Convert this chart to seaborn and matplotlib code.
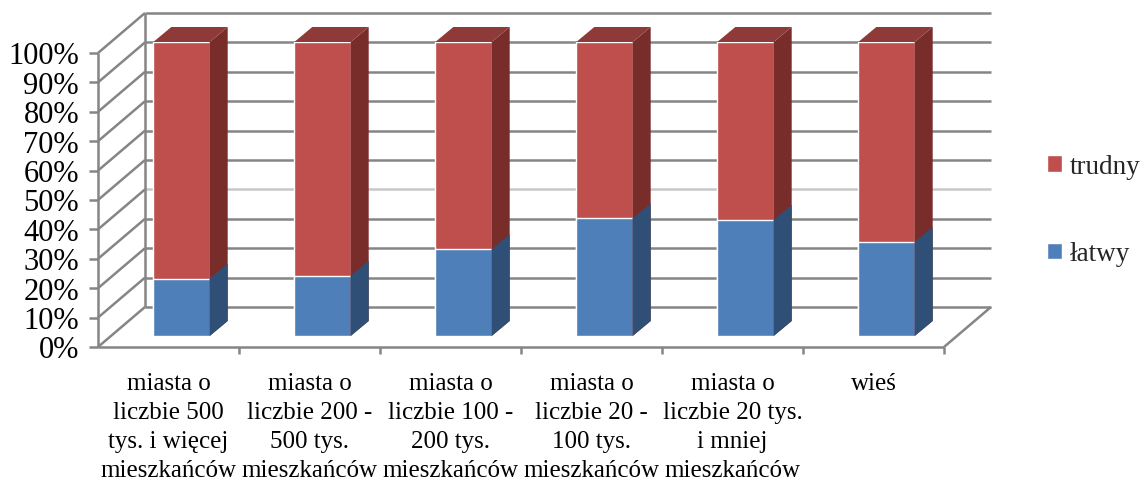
import matplotlib
matplotlib.use("Agg")
import matplotlib.pyplot as plt
from matplotlib.patches import Polygon, Patch
import seaborn as sns
import pandas as pd

# ---- data ----
categories = [
    "miasta o\nliczbie 500\ntys. i więcej\nmieszkańców",
    "miasta o\nliczbie 200 -\n500 tys.\nmieszkańców",
    "miasta o\nliczbie 100 -\n200 tys.\nmieszkańców",
    "miasta o\nliczbie 20 -\n100 tys.\nmieszkańców",
    "miasta o\nliczbie 20 tys.\ni mniej\nmieszkańców",
    "wieś",
]
latwy = [19.5, 20.5, 29.5, 40.0, 39.5, 32.0]
trudny = [100 - v for v in latwy]
series_names = ["trudny", "łatwy"]
y_ticks = [0, 10, 20, 30, 40, 50, 60, 70, 80, 90, 100]
y_ticklabels = [f"{t}%" for t in y_ticks]

# ---- style ----
sns.set_style("white")
plt.rcParams["font.family"] = ["Liberation Serif", "DejaVu Serif"]

RED, RED_SIDE, RED_TOP = "#BE4F4C", "#782D2B", "#8E3A38"
BLUE, BLUE_SIDE = "#4F7FB9", "#2F4F77"
GRID = "#858585"

W, H = 1140, 481
fig = plt.figure(figsize=(W / 100, H / 100), dpi=100)
ax_l, ax_r, ax_t, ax_b = 111, 957, 43, 337
ax = fig.add_axes([ax_l / W, (H - ax_b) / H, (ax_r - ax_l) / W, (ax_b - ax_t) / H])

df = pd.DataFrame({"cat": categories, "total": [a + b for a, b in zip(latwy, trudny)], "latwy": latwy})
sns.barplot(data=df, x="cat", y="total", color=RED, saturation=1, width=0.4, ax=ax, zorder=3)
sns.barplot(data=df, x="cat", y="latwy", color=BLUE, saturation=1, width=0.4, ax=ax, zorder=3)

n = len(categories)
ax.set_xlim(-0.5, n - 0.5)
ax.set_ylim(0, 100)
ax.axis("off")

# pixel -> data conversion
sx = n / (ax_r - ax_l)
sy = 100 / (ax_b - ax_t)

def P(x, y, dxp=0, dyp=0):
    return (x + dxp * sx, y + dyp * sy)

FRONT = (-13, -11)
BACK = (34, 29)
DEPTH = (18, 15)

def line(pts, color=GRID, lw=1.8, z=1):
    xs, ys = zip(*pts)
    ax.plot(xs, ys, color=color, lw=lw, zorder=z, clip_on=False, solid_capstyle="butt")

x0, x1 = -0.5, n - 0.5
# back wall gridlines
for t in y_ticks:
    c = "#c8c8c8" if t == 40 else GRID
    line([P(x0, t, *BACK), P(x1, t, *BACK)], color=c)
# back-left vertical edge
line([P(x0, 0, *BACK), P(x0, 100, *BACK)])
# side wall diagonals
for t in y_ticks:
    line([P(x0, t, *FRONT), P(x0, t, *BACK)])
# front vertical axis + ticks
line([P(x0, 0, *FRONT), P(x0, 100, *FRONT)])
for t, lab in zip(y_ticks, y_ticklabels):
    line([P(x0, t, FRONT[0] - 9, FRONT[1]), P(x0, t, *FRONT)])
    ax.text(*P(x0, t, FRONT[0] - 19, FRONT[1] - 3), lab, ha="right", va="center",
            fontsize=22, color="black")
# floor
line([P(x0, 0, *FRONT), P(x1, 0, *FRONT)])
line([P(x1, 0, *FRONT), P(x1, 0, *BACK)])
for i in range(n):
    xb = i + 0.5
    line([P(xb, 0, FRONT[0], FRONT[1] - 7), P(xb, 0, *FRONT)])

# 3D side and top faces from the bar patches
patches = list(ax.patches)
red_bars, blue_bars = patches[:n], patches[n:2 * n]
for bars, side in ((red_bars, RED_SIDE), (blue_bars, BLUE_SIDE)):
    for p in bars:
        bx0, by0 = p.get_x(), p.get_y()
        bx1, by1 = bx0 + p.get_width(), by0 + p.get_height()
        ax.add_patch(Polygon([P(bx1, by0), P(bx1, by0, *DEPTH), P(bx1, by1, *DEPTH), P(bx1, by1)],
                             closed=True, facecolor=side, edgecolor="none",
                             zorder=4 if side == BLUE_SIDE else 3.5, clip_on=False))
for p in red_bars:
    bx0, by0 = p.get_x(), p.get_y()
    bx1, by1 = bx0 + p.get_width(), by0 + p.get_height()
    ax.add_patch(Polygon([P(bx0, by1), P(bx1, by1), P(bx1, by1, *DEPTH), P(bx0, by1, *DEPTH)],
                         closed=True, facecolor=RED_TOP, edgecolor="none", zorder=3.5, clip_on=False))

# category labels
for i, lab in enumerate(categories):
    ax.text(*P(i, 0, FRONT[0], FRONT[1] - 25), lab, ha="center", va="top", fontsize=18,
            linespacing=1.42, color="black")

# legend
handles = [Patch(facecolor=RED, label=series_names[0]), Patch(facecolor=BLUE, label=series_names[1])]
fig.legend(handles=handles, loc="upper left", bbox_to_anchor=(1047 / W, 1 - 155 / H),
           frameon=False, fontsize=19.5, handlelength=0.55, handleheight=0.55,
           handletextpad=0.3, labelspacing=2.3, borderaxespad=0, borderpad=0)

fig.savefig("out.png", dpi=100, facecolor="white")
